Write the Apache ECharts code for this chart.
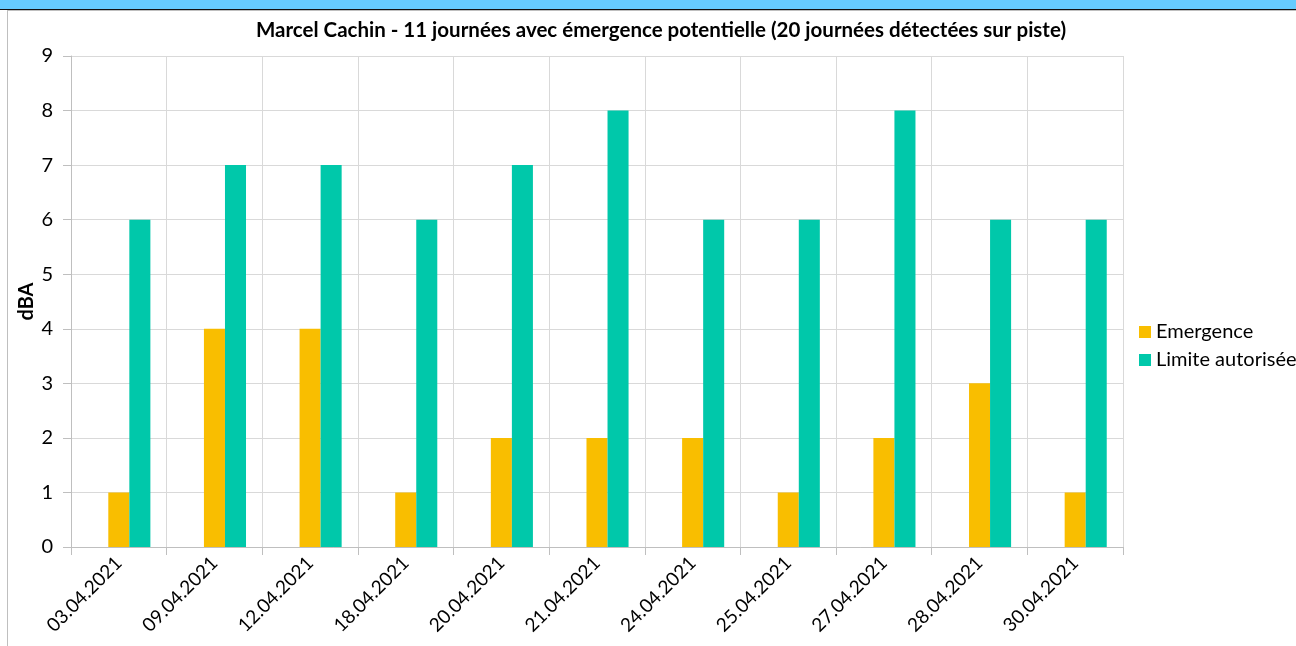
<!DOCTYPE html>
<html>
<head>
<meta charset="utf-8">
<script src="https://cdn.jsdelivr.net/npm/echarts@6/dist/echarts.min.js"></script>
<style>
  html, body { margin: 0; padding: 0; background: #fff; }
  #wrap { position: relative; width: 1296px; height: 646px; overflow: hidden; }
  #strip { position: absolute; left: 0; top: 0; width: 1296px; height: 9px; background: #66ccff; border-bottom: 1px solid #111; }
  #frame { position: absolute; left: 7px; top: 10px; width: 1300px; height: 640px; border-left: 1px solid #bfbfbf; border-top: 1px solid #bfbfbf; }
  #chart { position: absolute; left: 0; top: 0; width: 1296px; height: 646px; }
</style>
</head>
<body>
<div id="wrap">
  <div id="strip"></div>
  <div id="frame"></div>
  <div id="chart"></div>
</div>
<script>
const categories = ['03.04.2021', '09.04.2021', '12.04.2021', '18.04.2021', '20.04.2021', '21.04.2021',
  '24.04.2021', '25.04.2021', '27.04.2021', '28.04.2021', '30.04.2021'];
const emergence = [1, 4, 4, 1, 2, 2, 2, 1, 2, 3, 1];
const limite = [6, 7, 7, 6, 7, 8, 6, 6, 8, 6, 6];
// empty series in the source workbook, it still takes a slot in each group
const hidden = categories.map(() => '-');

const font = 'Lato, "Open Sans", sans-serif';
const chart = echarts.init(document.getElementById('chart'), null, { renderer: 'canvas' });
chart.setOption({
  animation: false,
  title: {
    text: 'Marcel Cachin - 11 journées avec émergence potentielle (20 journées détectées sur piste)',
    left: 656, top: 15, textAlign: 'center',
    textStyle: { fontFamily: font, fontSize: 20.5, fontWeight: 'bold', color: '#000' }
  },
  legend: {
    orient: 'vertical', left: 1134, top: 317, itemGap: 8,
    data: ['Emergence', 'Limite autorisée'],
    icon: 'rect', itemWidth: 12, itemHeight: 12,
    textStyle: { fontFamily: font, fontSize: 20, color: '#000' }
  },
  grid: { left: 71, right: 173, top: 56, bottom: 99, containLabel: false },
  xAxis: {
    type: 'category', data: categories,
    axisLine: { lineStyle: { color: '#bfbfbf' } },
    axisTick: { show: true, length: 8, lineStyle: { color: '#bfbfbf' } },
    splitLine: { show: true, lineStyle: { color: '#d9d9d9' } },
    axisLabel: { rotate: 45, fontFamily: font, fontSize: 19, color: '#000', margin: 13 }
  },
  yAxis: {
    type: 'value', min: 0, max: 9, interval: 1,
    name: 'dBA', nameLocation: 'middle', nameGap: 34, nameRotate: 90, nameMoveOverlap: false,
    nameTextStyle: { fontFamily: font, fontSize: 20, fontWeight: 'bold', color: '#000' },
    axisLine: { show: true, lineStyle: { color: '#bfbfbf' } },
    axisTick: { show: true, length: 8, lineStyle: { color: '#bfbfbf' } },
    splitLine: { lineStyle: { color: '#d9d9d9' } },
    axisLabel: { fontFamily: font, fontSize: 20, color: '#000', margin: 18 }
  },
  series: [
    { name: 'hidden', type: 'bar', data: hidden, barGap: 0, barCategoryGap: '34%' },
    { name: 'Emergence', type: 'bar', data: emergence, barGap: 0, barCategoryGap: '34%',
      itemStyle: { color: '#f9be00' } },
    { name: 'Limite autorisée', type: 'bar', data: limite, barGap: 0, barCategoryGap: '34%',
      itemStyle: { color: '#00c8aa' } }
  ]
});
</script>
</body>
</html>
